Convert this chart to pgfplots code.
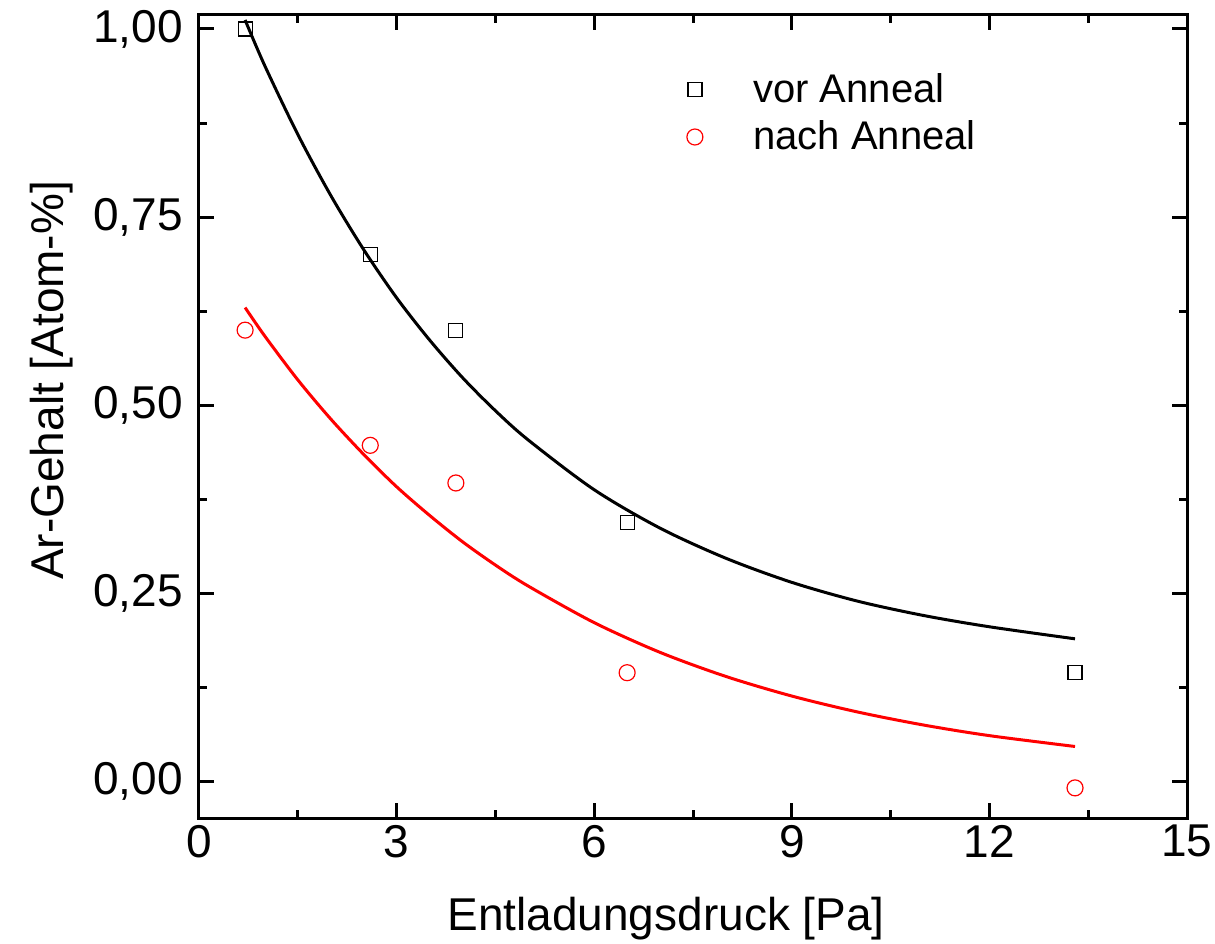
\documentclass[border=0pt]{standalone}
\usepackage{pgfplots}
\pgfplotsset{compat=1.18}
\usepackage{fontspec}
\setmainfont{Liberation Sans}
\begin{document}
\begin{tikzpicture}
\begin{axis}[
  scale only axis,
  width=494pt, height=401.5pt,
  xmin=0, xmax=15, ymin=-0.048, ymax=1.0186,
  xtick={0,3,6,9,12,15},
  minor xtick={1.5,4.5,7.5,10.5,13.5},
  ytick={0,0.25,0.5,0.75,1},
  minor ytick={0.125,0.375,0.625,0.875},
  tick align=inside,
  major tick length=7.5pt,
  minor tick length=4pt,
  every tick/.style={line width=1.5pt, black},
  axis line style={line width=1.5pt},
  font=\fontsize{23}{27}\selectfont,
  /pgf/number format/assume math mode=true,
  yticklabel style={xshift=-4.5pt, /pgf/number format/.cd, fixed, fixed zerofill, precision=2, use comma},
  xlabel={Entladungsdruck [Pa]},
  ylabel={Ar-Gehalt [Atom-\%]},
  xlabel style={at={(rel axis cs:0.4727,0)}, anchor=base, yshift=-56pt},
  ylabel style={at={(rel axis cs:-0.1371,0.545)}, anchor=base},
  legend style={draw=none, fill=none, at={(rel axis cs:0.4829,0.9377)}, anchor=north west,
    font=\fontsize{20}{24}\selectfont, row sep=3.8pt},
  legend cell align=left,
  legend image code/.code={\draw[#1] plot coordinates {(0pt,0pt)}; \path (-6pt,0pt) (27pt,0pt);},
]
\addplot[only marks, mark=square, mark size=3.5pt, mark options={line width=0.6pt, black}]
  coordinates {(0.7,1.00) (2.6,0.70) (3.9,0.60) (6.5,0.345) (13.3,0.145)};
\addlegendentry{vor Anneal}
\addplot[only marks, mark=o, mark size=4pt, mark options={line width=0.6pt, red}, red]
  coordinates {(0.7,0.60) (2.6,0.447) (3.9,0.397) (6.5,0.145) (13.3,-0.008)};
\addlegendentry{nach Anneal}
\addplot[black, line width=1.5pt, smooth, forget plot] coordinates {
 (0.7,1.012) (1,0.951) (1.5,0.860) (2,0.779) (2.5,0.707) (3,0.643) (3.5,0.587)
 (4,0.537) (4.5,0.493) (5,0.454) (6,0.388) (7,0.337) (8,0.297) (9,0.265)
 (10,0.240) (11,0.221) (12,0.206) (13.3,0.190)};
\addplot[red, line width=1.5pt, smooth, forget plot] coordinates {
 (0.7,0.630) (1,0.592) (1.5,0.534) (2,0.482) (2.5,0.435) (3,0.392) (3.5,0.354)
 (4,0.319) (4.5,0.288) (5,0.260) (6,0.2115) (7,0.172) (8,0.140) (9,0.114)
 (10,0.0928) (11,0.0755) (12,0.0614) (13.3,0.047)};
\end{axis}
\pgfresetboundingbox
\path[use as bounding box] ([shift={(-99.5pt,-62.5pt)}]current axis.south west)
  rectangle ([shift={(14pt,7.5pt)}]current axis.north east);
\end{tikzpicture}
\end{document}
